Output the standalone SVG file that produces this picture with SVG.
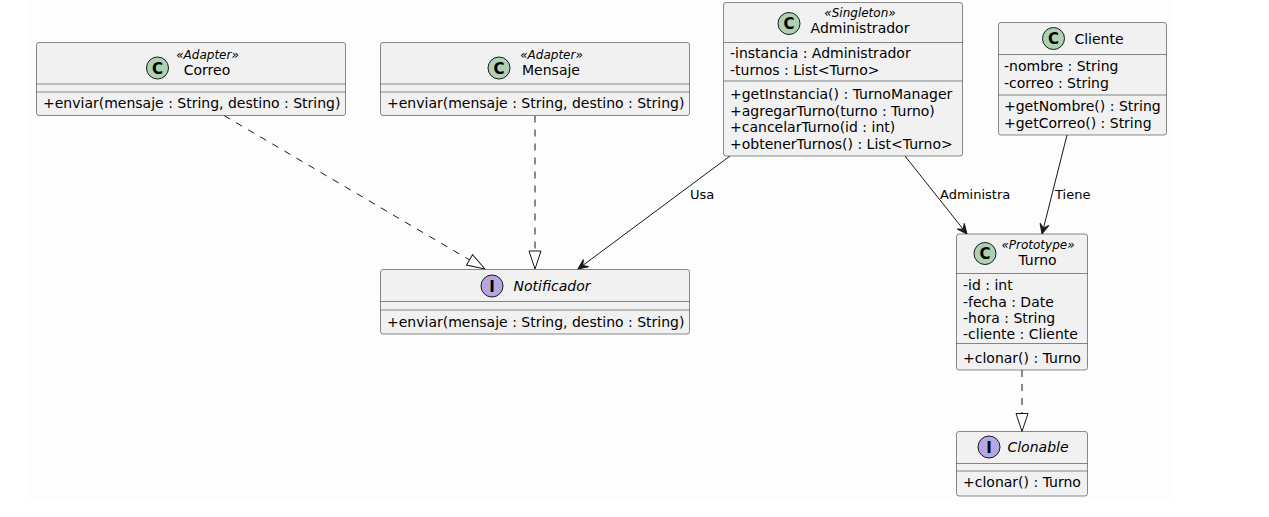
<svg xmlns="http://www.w3.org/2000/svg" width="1269" height="517" viewBox="0 0 1269 517">
<style>
  .box{fill:#F1F1F1;stroke:#181818;stroke-width:0.5}
  .sep{stroke:#181818;stroke-width:0.5}
  .t{font-family:"DejaVu Sans",sans-serif;font-size:14px;fill:#000}
  .n{font-family:"DejaVu Sans",sans-serif;font-size:14px;fill:#000;text-anchor:middle}
  .ni{font-family:"DejaVu Sans",sans-serif;font-size:14px;font-style:italic;fill:#000;text-anchor:middle}
  .st{font-family:"DejaVu Sans",sans-serif;font-size:12px;font-style:italic;fill:#000;text-anchor:middle}
  .spotC{fill:#ADD1B2;stroke:#181818;stroke-width:1}
  .spotI{fill:#B4A7E5;stroke:#181818;stroke-width:1}
  .sl{font-family:"DejaVu Sans",sans-serif;font-size:15px;font-weight:bold;fill:#000;text-anchor:middle}
  .lbl{font-family:"DejaVu Sans",sans-serif;font-size:13px;fill:#000}
  .solid{stroke:#181818;stroke-width:1;fill:none}
  .dash{stroke:#181818;stroke-width:1;fill:none;stroke-dasharray:7,7}
</style>
<defs>
  <marker id="tri" markerUnits="userSpaceOnUse" viewBox="-20 -8 22 16" markerWidth="22" markerHeight="16" refX="0" refY="0" orient="auto">
    <path d="M0,0 L-18,-6 L-18,6 Z" fill="#FEFEFE" stroke="#181818" stroke-width="1"/>
  </marker>
  <marker id="arr" markerUnits="userSpaceOnUse" viewBox="-12 -6 14 12" markerWidth="14" markerHeight="12" refX="0" refY="0" orient="auto">
    <path d="M0,0 L-10,-4.5 L-6,0 L-10,4.5 Z" fill="#181818" stroke="#181818" stroke-width="1"/>
  </marker>
</defs>
<rect x="29" y="0" width="1144" height="501" fill="#FDFDFD"/>

<g id="connectors">
  <path class="dash" d="M224,115.5 L485,269" marker-end="url(#tri)"/>
  <path class="dash" d="M535,115.5 L535,269" marker-end="url(#tri)"/>
  <path class="solid" d="M730,156 L578,269" marker-end="url(#arr)"/>
  <text class="lbl" x="690" y="199">Usa</text>
  <path class="solid" d="M905,156 L967,234" marker-end="url(#arr)"/>
  <text class="lbl" x="940" y="199">Administra</text>
  <path class="solid" d="M1067,135 L1042,234" marker-end="url(#arr)"/>
  <text class="lbl" x="1055" y="199">Tiene</text>
  <path class="dash" d="M1022,370 L1022,431.5" marker-end="url(#tri)"/>
</g>

<g id="Correo">
  <rect class="box" x="36.5" y="42.5" width="309" height="73" rx="2.5"/>
  <circle class="spotC" cx="157.5" cy="68" r="11"/>
  <text class="sl" x="157.5" y="73.5">C</text>
  <text class="st" x="207.5" y="59">«Adapter»</text>
  <text class="n" x="207" y="75">Correo</text>
  <line class="sep" x1="36.5" y1="84" x2="345.5" y2="84"/>
  <line class="sep" x1="36.5" y1="92" x2="345.5" y2="92"/>
  <text class="t" x="43" y="108">+enviar(mensaje : String, destino : String)</text>
</g>

<g id="Mensaje">
  <rect class="box" x="380.5" y="42.5" width="309" height="73" rx="2.5"/>
  <circle class="spotC" cx="499" cy="68" r="11"/>
  <text class="sl" x="499" y="73.5">C</text>
  <text class="st" x="551.5" y="59">«Adapter»</text>
  <text class="n" x="551" y="75">Mensaje</text>
  <line class="sep" x1="380.5" y1="84" x2="689.5" y2="84"/>
  <line class="sep" x1="380.5" y1="92" x2="689.5" y2="92"/>
  <text class="t" x="387" y="108">+enviar(mensaje : String, destino : String)</text>
</g>

<g id="Administrador">
  <rect class="box" x="723.5" y="2.5" width="239" height="153.5" rx="2.5"/>
  <circle class="spotC" cx="789" cy="23.5" r="11"/>
  <text class="sl" x="789" y="29">C</text>
  <text class="st" x="860" y="17">«Singleton»</text>
  <text class="n" x="860" y="33">Administrador</text>
  <line class="sep" x1="723.5" y1="42.5" x2="962.5" y2="42.5"/>
  <text class="t" x="730" y="58">-instancia : Administrador</text>
  <text class="t" x="730" y="75">-turnos : List&lt;Turno&gt;</text>
  <line class="sep" x1="723.5" y1="81" x2="962.5" y2="81"/>
  <text class="t" x="730" y="99">+getInstancia() : TurnoManager</text>
  <text class="t" x="730" y="115.5">+agregarTurno(turno : Turno)</text>
  <text class="t" x="730" y="132">+cancelarTurno(id : int)</text>
  <text class="t" x="730" y="148.5">+obtenerTurnos() : List&lt;Turno&gt;</text>
</g>

<g id="Cliente">
  <rect class="box" x="998.5" y="22.5" width="168" height="112.5" rx="2.5"/>
  <circle class="spotC" cx="1053.5" cy="38.5" r="11"/>
  <text class="sl" x="1053.5" y="44">C</text>
  <text class="n" x="1099" y="43.5">Cliente</text>
  <line class="sep" x1="998.5" y1="54.5" x2="1166.5" y2="54.5"/>
  <text class="t" x="1004" y="71">-nombre : String</text>
  <text class="t" x="1004" y="87.5">-correo : String</text>
  <line class="sep" x1="998.5" y1="95" x2="1166.5" y2="95"/>
  <text class="t" x="1004" y="111">+getNombre() : String</text>
  <text class="t" x="1004" y="127.5">+getCorreo() : String</text>
</g>

<g id="Notificador">
  <rect class="box" x="380.5" y="269.5" width="309" height="64.5" rx="2.5"/>
  <circle class="spotI" cx="492" cy="286" r="11"/>
  <text class="sl" x="492" y="291.5">I</text>
  <text class="ni" x="552" y="291">Notificador</text>
  <line class="sep" x1="380.5" y1="301.5" x2="689.5" y2="301.5"/>
  <line class="sep" x1="380.5" y1="310" x2="689.5" y2="310"/>
  <text class="t" x="387" y="327">+enviar(mensaje : String, destino : String)</text>
</g>

<g id="Turno">
  <rect class="box" x="956.5" y="234" width="131" height="136" rx="2.5"/>
  <circle class="spotC" cx="985" cy="253.5" r="11"/>
  <text class="sl" x="985" y="259">C</text>
  <text class="st" x="1038" y="249">«Prototype»</text>
  <text class="n" x="1037.5" y="264.5">Turno</text>
  <line class="sep" x1="956.5" y1="273.5" x2="1087.5" y2="273.5"/>
  <text class="t" x="963" y="290">-id : int</text>
  <text class="t" x="963" y="306.5">-fecha : Date</text>
  <text class="t" x="963" y="322.5">-hora : String</text>
  <text class="t" x="963" y="338.5">-cliente : Cliente</text>
  <line class="sep" x1="956.5" y1="343.5" x2="1087.5" y2="343.5"/>
  <text class="t" x="963" y="362.5">+clonar() : Turno</text>
</g>

<g id="Clonable">
  <rect class="box" x="956.5" y="431.5" width="131" height="64.5" rx="2.5"/>
  <circle class="spotI" cx="989" cy="447" r="11"/>
  <text class="sl" x="989" y="452.5">I</text>
  <text class="ni" x="1038" y="452">Clonable</text>
  <line class="sep" x1="956.5" y1="463.5" x2="1087.5" y2="463.5"/>
  <line class="sep" x1="956.5" y1="471" x2="1087.5" y2="471"/>
  <text class="t" x="963" y="487">+clonar() : Turno</text>
</g>
</svg>
